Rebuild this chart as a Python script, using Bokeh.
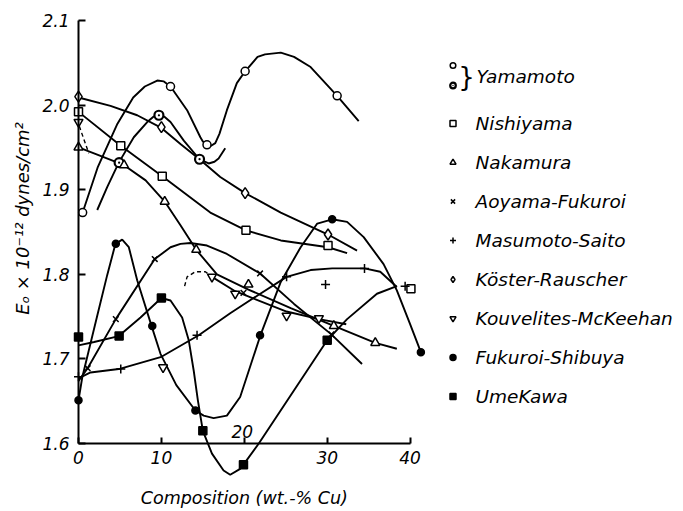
import math
from bokeh.plotting import figure
from bokeh.models import (Range1d, FixedTicker, Legend, LegendItem, Label, PrintfTickFormatter)
from bokeh.embed import file_html
from bokeh.resources import INLINE

# ---------------- data ----------------
x_ticks = [0, 10, 20, 30, 40]
y_ticks = [1.6, 1.7, 1.8, 1.9, 2.0, 2.1]

# Yamamoto (open circles)
yam_open_x = [0.5, 11.1, 15.5, 20.1, 31.2]
yam_open_y = [1.873, 2.022, 1.953, 2.040, 2.011]
yam_open_curve_x = [0.5, 2.3, 4.7, 6.6, 8.0, 9.5, 10.3, 11.1, 13.1, 14.7, 15.0, 15.5, 16.0, 16.5, 17.0, 17.9, 19.1, 20.1, 21.6, 22.5, 24.4, 26.0, 28.0, 31.2, 33.8]
yam_open_curve_y = [1.873, 1.926, 1.978, 2.009, 2.022, 2.029, 2.028, 2.022, 1.994, 1.962, 1.957, 1.953, 1.952, 1.955, 1.966, 1.994, 2.026, 2.040, 2.057, 2.060, 2.062, 2.057, 2.045, 2.011, 1.981]

# Yamamoto (bold circles)
yam_bold_x = [4.9, 9.7, 14.6]
yam_bold_y = [1.932, 1.988, 1.936]
yam_bold_curve_x = [2.26, 3.46, 4.86, 6.67, 8.29, 9.0, 9.69, 10.4, 11.1, 12.7, 14.6, 15.7, 16.4, 16.9, 17.7]
yam_bold_curve_y = [1.876, 1.903, 1.932, 1.962, 1.980, 1.986, 1.988, 1.986, 1.980, 1.958, 1.936, 1.931, 1.933, 1.937, 1.949]

# Nishiyama (open squares)
nishi_x = [0, 5.1, 10.1, 20.2, 30.1, 40.1]
nishi_y = [1.992, 1.952, 1.916, 1.852, 1.834, 1.783]
nishi_curve_x = [0, 5.1, 10.1, 15.9, 20.2, 24.4, 28.0, 30.1, 32.4]
nishi_curve_y = [1.992, 1.952, 1.916, 1.873, 1.852, 1.840, 1.835, 1.832, 1.825]

# Nakamura (open triangles)
naka_x = [0, 5.5, 10.4, 14.2, 20.5, 30.8, 35.8]
naka_y = [1.950, 1.929, 1.886, 1.829, 1.788, 1.739, 1.719]
naka_curve_x = [0, 2.65, 5.5, 8.1, 10.4, 12.3, 14.2, 16.7, 20.5, 25.6, 30.8, 35.8, 38.4]
naka_curve_y = [1.950, 1.940, 1.929, 1.911, 1.886, 1.858, 1.829, 1.800, 1.782, 1.760, 1.739, 1.719, 1.712]

# Aoyama-Fukuroi (x)
aoya_x = [1.1, 4.5, 9.2, 19.9, 21.9, 30.5]
aoya_y = [1.689, 1.747, 1.818, 1.778, 1.801, 1.729]
aoya_curve_x = [0, 1.1, 4.5, 9.2, 11.1, 12.3, 13.5, 15.5, 17.9, 21.9, 26.0, 30.5, 34.2]
aoya_curve_y = [1.674, 1.689, 1.747, 1.818, 1.832, 1.836, 1.837, 1.834, 1.824, 1.801, 1.765, 1.729, 1.694]

# Masumoto-Saito (+)
masu_x = [0, 5.1, 14.3, 25.1, 29.8, 34.5, 39.4]
masu_y = [1.679, 1.688, 1.728, 1.797, 1.788, 1.807, 1.786]
masu_curve_x = [0, 1.45, 4.86, 9.9, 14.5, 18.3, 21.6, 25.1, 28.0, 30.6, 34.5, 36.4, 38.4]
masu_curve_y = [1.677, 1.684, 1.688, 1.702, 1.728, 1.754, 1.775, 1.797, 1.805, 1.807, 1.807, 1.803, 1.785]

# Koster-Rauscher (diamonds)
kost_x = [0, 10.0, 20.1, 30.1]
kost_y = [2.010, 1.974, 1.896, 1.847]
kost_curve_x = [0, 3.86, 7.08, 10.0, 12.3, 14.6, 17.1, 20.1, 24.4, 30.1, 33.6]
kost_curve_y = [2.009, 1.999, 1.988, 1.973, 1.954, 1.936, 1.915, 1.896, 1.873, 1.847, 1.828]

# Kouvelites-McKeehan (inverted triangles)
kouv_x = [0, 10.2, 16.1, 18.9, 25.1, 29.0]
kouv_y = [1.980, 1.690, 1.797, 1.777, 1.751, 1.748]
kouv_curve_x = [16.1, 18.9, 25.1, 29.0, 32.3]
kouv_curve_y = [1.797, 1.780, 1.756, 1.747, 1.741]
kouv_dash_xs = [[0.1, 1.24], [12.8, 13.1, 14.1, 15.3, 16.1]]
kouv_dash_ys = [[1.975, 1.943], [1.786, 1.797, 1.803, 1.803, 1.797]]

# Fukuroi-Shibuya (filled circles)
fuku_x = [0, 4.5, 8.9, 14.1, 21.9, 30.6, 41.3]
fuku_y = [1.651, 1.836, 1.739, 1.639, 1.728, 1.865, 1.708]
fuku_curve_x = [0, 0.45, 1.24, 2.26, 3.46, 4.46, 5.27, 6.07, 7.08, 8.81, 9.89, 11.8, 14.1, 15.1, 16.3, 17.9, 19.5, 21.95, 24.4, 26.8, 28.8, 30.6, 32.4, 34.4, 36.8, 38.4, 40.0, 41.3]
fuku_curve_y = [1.651, 1.678, 1.710, 1.751, 1.799, 1.836, 1.841, 1.832, 1.793, 1.739, 1.706, 1.669, 1.639, 1.633, 1.630, 1.633, 1.655, 1.728, 1.791, 1.832, 1.860, 1.865, 1.862, 1.844, 1.812, 1.781, 1.741, 1.708]

# Umekawa (filled squares)
ume_x = [0, 4.9, 10.0, 15.0, 19.9, 30.0]
ume_y = [1.726, 1.727, 1.772, 1.615, 1.575, 1.722]
ume_curve_x = [0, 1.88, 4.86, 7.48, 10.0, 11.1, 12.5, 13.3, 13.9, 14.4, 15.0, 16.1, 17.5, 18.3, 19.5, 19.9, 21.75, 30.0, 32.4, 36.0, 38.4]
ume_curve_y = [1.716, 1.720, 1.727, 1.749, 1.772, 1.769, 1.749, 1.722, 1.686, 1.651, 1.615, 1.588, 1.568, 1.563, 1.570, 1.575, 1.600, 1.722, 1.747, 1.777, 1.786]

names = ["Nishiyama", "Nakamura", "Aoyama-Fukuroi", "Masumoto-Saito",
         "Köster-Rauscher", "Kouvelites-McKeehan", "Fukuroi-Shibuya", "UmeKawa"]
yam_name = "Yamamoto"
x_title = "Composition (wt.-% Cu)"
y_title = "Eₒ × 10⁻¹² dynes/cm²"

# ---------------- figure (frame = whole canvas) ----------------
FONT = "DejaVu Sans"
INK = "black"
W, H = 683, 511
PX_X0, PX_PER_X = 78.0, 8.29       # pixel of x=0, pixels per unit
PX_Y16, PX_PER_Y = 443.0, 846.0    # pixel of y=1.6, pixels per unit

p = figure(width=W, height=H,
           x_range=Range1d(-PX_X0 / PX_PER_X, (W - PX_X0) / PX_PER_X),
           y_range=Range1d(1.6 - (H - PX_Y16) / PX_PER_Y, 1.6 + PX_Y16 / PX_PER_Y),
           toolbar_location=None, output_backend="svg",
           min_border_left=0, min_border_right=0, min_border_top=0, min_border_bottom=0)
p.xgrid.visible = False
p.ygrid.visible = False
p.outline_line_color = None
p.background_fill_color = "white"
p.border_fill_color = "white"

ax = p.xaxis[0]
ax.fixed_location = 1.6
ax.bounds = (0, 40)
ax.ticker = FixedTicker(ticks=x_ticks)
ax.major_label_overrides = {20: ""}
ax.major_tick_in = 6
ax.major_tick_out = 0
ax.minor_tick_line_color = None
ax.axis_line_width = 2
ax.axis_line_color = INK
ax.major_tick_line_width = 2
ax.major_tick_line_color = INK
ax.major_label_text_font = FONT
ax.major_label_text_font_style = "italic"
ax.major_label_text_font_size = "17px"
ax.major_label_text_color = INK
ax.major_label_standoff = 7

ay = p.yaxis[0]
ay.fixed_location = 0
ay.bounds = (1.6, 2.1)
ay.ticker = FixedTicker(ticks=y_ticks)
ay.formatter = PrintfTickFormatter(format="%.1f")
ay.major_tick_in = 7
ay.major_tick_out = 0
ay.minor_tick_line_color = None
ay.axis_line_width = 2
ay.axis_line_color = INK
ay.major_tick_line_width = 2
ay.major_tick_line_color = INK
ay.major_label_text_font = FONT
ay.major_label_text_font_style = "italic"
ay.major_label_text_font_size = "17px"
ay.major_label_text_color = INK
ay.major_label_standoff = 9

# axis titles and the "20" tick label drawn above the axis (as in the reference)
p.add_layout(Label(x=20, y=1.6, text="20", text_align="center", text_baseline="bottom",
                   y_offset=6, x_offset=-2, text_font=FONT, text_font_style="italic",
                   text_font_size="17px", text_color=INK))
p.add_layout(Label(x=20, y=1.6, text=x_title, text_align="center", text_baseline="middle",
                   y_offset=-54, text_font=FONT, text_font_style="italic",
                   text_font_size="17.5px", text_color=INK))
p.add_layout(Label(x=0, y=1.866, text=y_title, text_align="center", text_baseline="middle",
                   x_offset=-56, angle=math.pi / 2, text_font=FONT, text_font_style="italic",
                   text_font_size="18px", text_color=INK))

LW = 1.9
curves = [(yam_open_curve_x, yam_open_curve_y), (yam_bold_curve_x, yam_bold_curve_y),
          (nishi_curve_x, nishi_curve_y), (naka_curve_x, naka_curve_y),
          (aoya_curve_x, aoya_curve_y), (masu_curve_x, masu_curve_y),
          (kost_curve_x, kost_curve_y), (kouv_curve_x, kouv_curve_y),
          (fuku_curve_x, fuku_curve_y), (ume_curve_x, ume_curve_y)]
for cx, cy in curves:
    p.line(cx, cy, line_color=INK, line_width=LW)
p.multi_line(kouv_dash_xs, kouv_dash_ys, line_color=INK, line_width=1.4, line_dash="4 3")

def mk(x, y, marker, size, fill="white", lw=1.5):
    return p.scatter(x, y, marker=marker, size=size, line_color=INK,
                     fill_color=fill, line_width=lw)

r_yo = mk(yam_open_x, yam_open_y, "circle", 8)
r_yb = mk(yam_bold_x, yam_bold_y, "circle_dot", 9, lw=2.2)
r_ni = mk(nishi_x, nishi_y, "square", 8)
r_na = mk(naka_x, naka_y, "triangle", 9)
r_ao = mk(aoya_x, aoya_y, "x", 8)
r_ma = mk(masu_x, masu_y, "cross", 9)
r_ko = mk(kost_x, kost_y, "diamond", 11)
r_kv = mk(kouv_x, kouv_y, "inverted_triangle", 9)
r_fu = mk(fuku_x, fuku_y, "circle", 7, fill=INK)
r_um = mk(ume_x, ume_y, "square", 8, fill=INK)

# ---------------- legends (screen offsets from the frame's bottom-left) ----------------
ITEM_H, SPACING = 22, 17
top_center = 123
n = len(names)
leg_h = n * ITEM_H + (n - 1) * SPACING
leg_left = 452 - 7.5
leg = Legend(items=[LegendItem(label=nm, renderers=[r]) for nm, r in
                    zip(names, [r_ni, r_na, r_ao, r_ma, r_ko, r_kv, r_fu, r_um])],
             location=(leg_left, H - (top_center - ITEM_H / 2) - leg_h),
             glyph_width=15, glyph_height=ITEM_H, label_height=ITEM_H, spacing=SPACING,
             padding=0, margin=0, label_standoff=16, border_line_color=None,
             background_fill_alpha=0, label_text_font=FONT, label_text_font_style="italic",
             label_text_font_size="18.5px", label_text_color=INK)
p.add_layout(leg)

Y_H, Y_SP = 14, 6
y_top = 65 - Y_H / 2
y_leg_h = 2 * Y_H + Y_SP
leg2 = Legend(items=[LegendItem(label=" ", renderers=[r_yo]), LegendItem(label=" ", renderers=[r_yb])],
              location=(leg_left, H - y_top - y_leg_h),
              glyph_width=15, glyph_height=Y_H, label_height=Y_H, spacing=Y_SP,
              padding=0, margin=0, label_standoff=2, border_line_color=None,
              background_fill_alpha=0, label_text_font_size="2px")
p.add_layout(leg2)

p.add_layout(Label(x=466, y=H - 76, x_units="screen", y_units="screen",
                   text="}", text_align="center", text_baseline="middle",
                   text_font=FONT, text_font_size="26px", text_color=INK))
p.add_layout(Label(x=476, y=H - 76, x_units="screen", y_units="screen",
                   text=yam_name, text_align="left", text_baseline="middle",
                   text_font=FONT, text_font_style="italic", text_font_size="18.5px",
                   text_color=INK))

open("out.html", "w").write(file_html(p, INLINE))
